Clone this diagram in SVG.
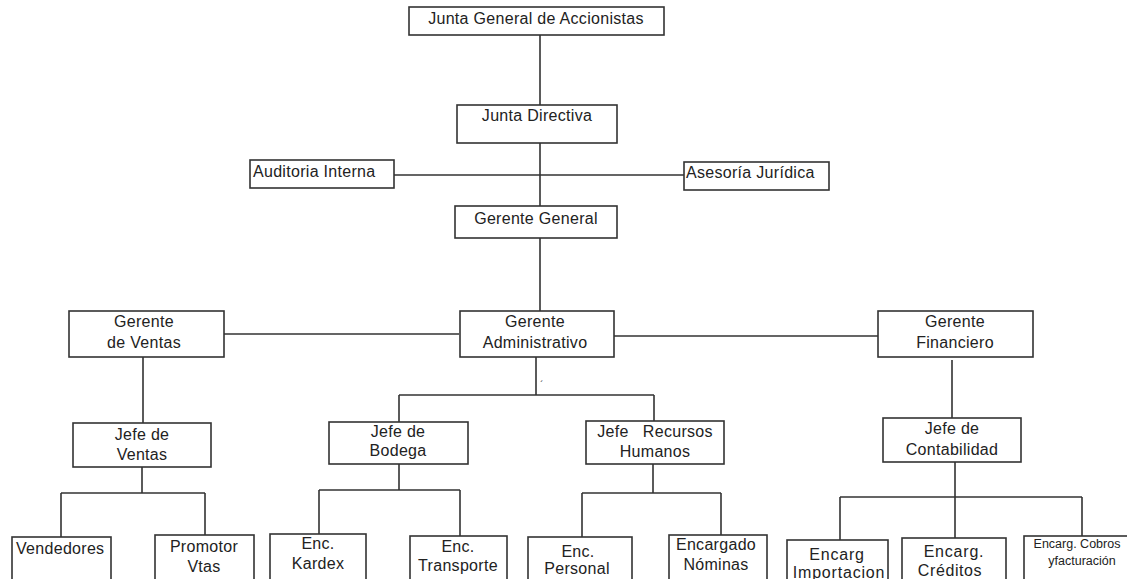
<svg xmlns="http://www.w3.org/2000/svg" width="1127" height="579" viewBox="0 0 1127 579">
<style>
rect{fill:#fff;stroke:#333;stroke-width:1.6}
text{font-family:"Liberation Sans",Arial,sans-serif;font-size:16px;letter-spacing:0.3px;fill:#222;text-anchor:middle}
.l{text-anchor:start}
.s{font-size:12.5px;letter-spacing:0}
#connectors path{fill:none;stroke:#333;stroke-width:1.6}
</style>
<rect x="0" y="0" width="1127" height="579" style="fill:#fff;stroke:none"/>
<g id="connectors">
<path d="M540 35V105M540 143V206M394 175H684M540 238V311"/>
<path d="M224 334H459M614 336H878"/>
<path d="M143 357V423M536 357V395M399 395H654M399 395V422M654 395V421M952 360V418"/>
<path d="M142 467V493M61 493H205M61 493V537M205 493V535"/>
<path d="M399 464V490M319 490H460M319 490V534M460 490V536"/>
<path d="M653 464V493M582 493H721M582 493V537M721 493V535"/>
<path d="M955 462V497M840 497H1082M840 497V540M955 497V538M1082 497V536"/>
</g>
<g id="junta-general"><rect x="409" y="7" width="255" height="28"/><text x="536" y="24">Junta General de Accionistas</text></g>
<g id="junta-directiva"><rect x="457" y="105" width="160" height="38"/><text x="537" y="121">Junta Directiva</text></g>
<g id="auditoria"><rect x="250" y="160" width="144" height="28"/><text class="l" x="253" y="177">Auditoria Interna</text></g>
<g id="asesoria"><rect x="684" y="162" width="145" height="28"/><text class="l" x="686" y="178">Asesoría Jurídica</text></g>
<g id="gerente-general"><rect x="455" y="206" width="162" height="32"/><text x="536" y="224">Gerente General</text></g>
<g id="gerente-ventas"><rect x="69" y="311" width="155" height="46"/><text x="144" y="327">Gerente</text><text x="144" y="348">de Ventas</text></g>
<g id="gerente-administrativo"><rect x="460" y="311" width="154" height="46"/><text x="535" y="327">Gerente</text><text x="535" y="348">Administrativo</text></g>
<text x="542" y="387" style="font-size:9px">´</text>
<g id="gerente-financiero"><rect x="878" y="311" width="155" height="46"/><text x="955" y="327">Gerente</text><text x="955" y="348">Financiero</text></g>
<g id="jefe-ventas"><rect x="73" y="423" width="138" height="44"/><text x="142" y="440">Jefe de</text><text x="142" y="460">Ventas</text></g>
<g id="jefe-bodega"><rect x="329" y="422" width="139" height="42"/><text x="398" y="437">Jefe de</text><text x="398" y="456">Bodega</text></g>
<g id="jefe-rrhh"><rect x="586" y="421" width="138" height="43"/><text x="655" y="437" xml:space="preserve">Jefe   Recursos</text><text x="655" y="457">Humanos</text></g>
<g id="jefe-contabilidad"><rect x="883" y="418" width="138" height="44"/><text x="952" y="434">Jefe de</text><text x="952" y="455">Contabilidad</text></g>
<g id="vendedores"><rect x="12" y="537" width="99" height="46"/><text class="l" x="16" y="554">Vendedores</text></g>
<g id="promotor"><rect x="155" y="535" width="99" height="48"/><text x="204" y="552">Promotor</text><text x="204" y="572">Vtas</text></g>
<g id="kardex"><rect x="270" y="534" width="96" height="49"/><text x="318" y="549">Enc.</text><text x="318" y="569">Kardex</text></g>
<g id="transporte"><rect x="410" y="536" width="97" height="47"/><text x="458" y="552">Enc.</text><text x="458" y="571">Transporte</text></g>
<g id="personal"><rect x="528" y="537" width="104" height="46"/><text x="578" y="557">Enc.</text><text x="577" y="574">Personal</text></g>
<g id="nominas"><rect x="669" y="535" width="98" height="48"/><text x="716" y="550">Encargado</text><text x="716" y="570">Nóminas</text></g>
<g id="importacion"><rect x="787" y="540" width="101" height="43"/><text x="837" y="560" style="letter-spacing:0.8px">Encarg</text><text x="839" y="578" style="letter-spacing:0.8px">Importacion</text></g>
<g id="creditos"><rect x="902" y="538" width="104" height="45"/><text x="954" y="557" style="letter-spacing:0.8px">Encarg.</text><text x="950" y="576" style="letter-spacing:0.6px">Créditos</text></g>
<g id="cobros"><rect x="1024" y="536" width="106" height="47"/><text class="s" x="1077" y="548">Encarg. Cobros</text><text class="s" x="1082" y="565">yfacturación</text></g>
</svg>
